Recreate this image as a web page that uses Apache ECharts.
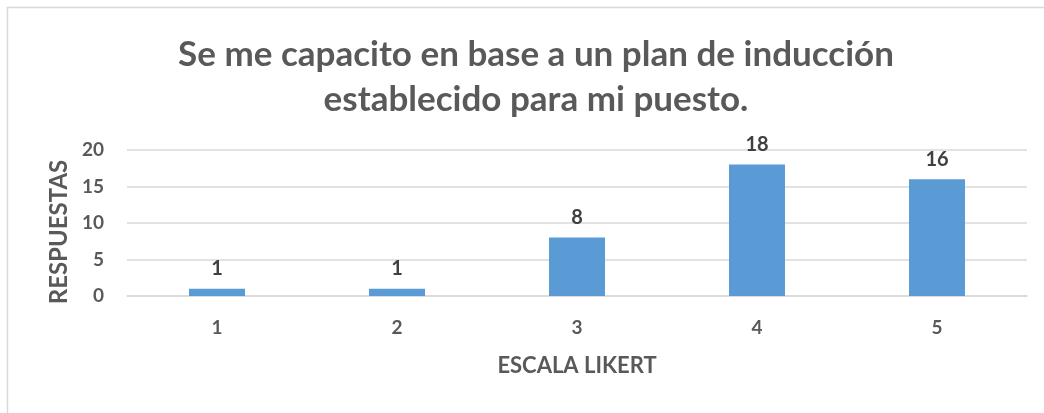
<!DOCTYPE html>
<html>
<head>
<meta charset="utf-8">
<script src="https://cdn.jsdelivr.net/npm/echarts@6/dist/echarts.min.js"></script>
<style>
  html, body { margin: 0; padding: 0; background: #ffffff; }
  #chart { width: 1044px; height: 413px; }
</style>
</head>
<body>
<div id="chart"></div>
<script>
// Likert scale points and number of responses per point
const categories = ['1', '2', '3', '4', '5'];
const responses = [1, 1, 8, 18, 16];
const titleLines = ['Se me capacito en base a un plan de inducción', 'establecido para mi puesto.'];
const xAxisName = 'ESCALA LIKERT';
const yAxisName = 'RESPUESTAS';

const FONT = 'Lato, "Open Sans", sans-serif';
const chart = echarts.init(document.getElementById('chart'), null, { renderer: 'canvas' });

chart.setOption({
  backgroundColor: '#ffffff',
  animation: false,
  graphic: [{
    type: 'rect',
    shape: { x: 7.5, y: 7.5, width: 1060, height: 420 },
    style: { fill: 'none', stroke: '#d9d9d9', lineWidth: 1.5 },
    silent: true
  }],
  title: {
    text: titleLines.join('\n'),
    left: 531,
    textAlign: 'center',
    top: 27,
    textStyle: {
      fontFamily: FONT,
      fontSize: 35,
      fontWeight: 'bold',
      color: '#595959',
      lineHeight: 45
    }
  },
  grid: { left: 127, right: 17, top: 150, bottom: 117, containLabel: false },
  xAxis: {
    type: 'category',
    data: categories,
    name: xAxisName,
    nameLocation: 'middle',
    nameGap: 59,
    nameTextStyle: { fontFamily: FONT, fontSize: 22, fontWeight: 'bold', color: '#595959' },
    axisLine: { show: true, lineStyle: { color: '#d9d9d9', width: 1.5 } },
    axisTick: { show: false },
    axisLabel: { margin: 22, fontFamily: FONT, fontSize: 19, fontWeight: 'bold', color: '#595959' }
  },
  yAxis: {
    type: 'value',
    min: 0,
    max: 20,
    interval: 5,
    name: yAxisName,
    nameLocation: 'middle',
    nameGap: 33,
    nameRotate: 90,
    nameTextStyle: { fontFamily: FONT, fontSize: 24, fontWeight: 'bold', color: '#595959', padding: [0, 18, 0, 0] },
    axisLine: { show: false },
    axisTick: { show: false },
    axisLabel: { margin: 23, fontFamily: FONT, fontSize: 19, fontWeight: 'bold', color: '#595959' },
    splitLine: { lineStyle: { color: '#d9d9d9', width: 1.5 } }
  },
  series: [{
    type: 'bar',
    data: responses,
    barWidth: 56,
    itemStyle: { color: '#5b9bd5' },
    label: {
      show: true,
      position: 'top',
      distance: 10,
      fontFamily: FONT,
      fontSize: 20,
      fontWeight: 'bold',
      color: '#404040'
    }
  }]
});
</script>
</body>
</html>
